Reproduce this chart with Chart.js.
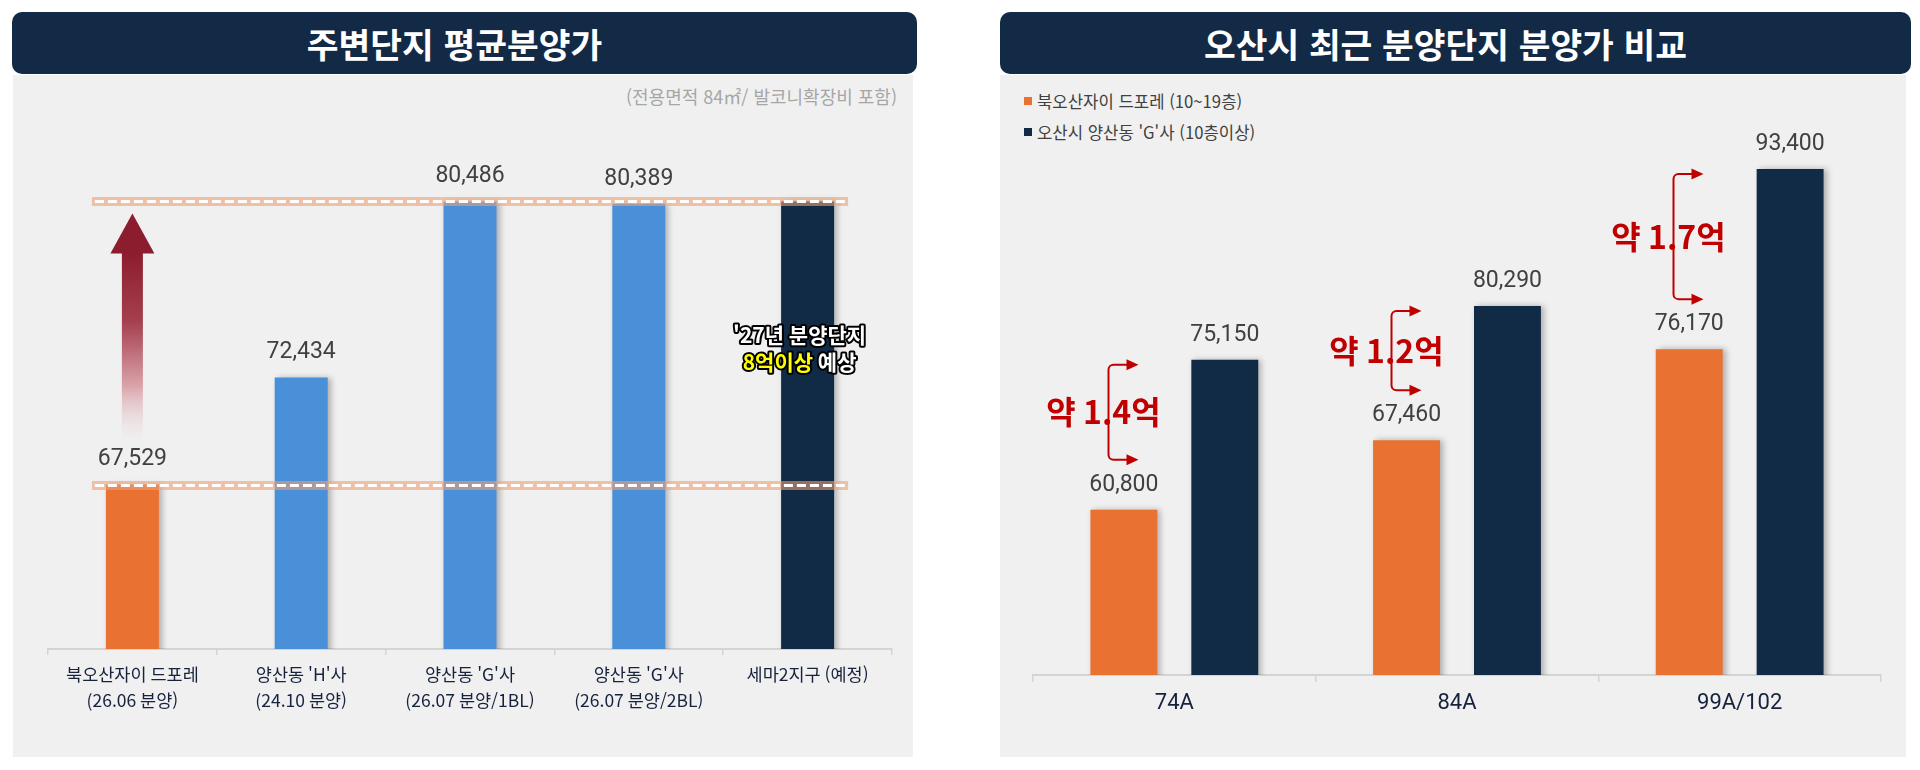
<!DOCTYPE html>
<html lang="ko">
<head>
<meta charset="utf-8">
<title>분양가 비교</title>
<script src="https://cdn.jsdelivr.net/npm/chart.js@4.4.1/dist/chart.umd.min.js"></script>
<style>
    body {
        margin: 0;
        width: 1920px;
        height: 770px;
        background: #ffffff;
        position: relative;
        overflow: hidden;
        font-family: "Noto Sans CJK KR", "Noto Sans", sans-serif;
    }
    .head {
        position: absolute;
        top: 12px;
        height: 62px;
        background: #132a46;
        border-radius: 10px;
        color: #ffffff;
        font-weight: bold;
        font-size: 34.5px;
        line-height: 62px;
        text-align: center;
        box-sizing: border-box;
        padding-right: 20px;
    }
    .body {
        position: absolute;
        top: 75px;
        height: 682px;
        background: #f0f0f0;
    }
    .wrap { position: absolute; top: 74px; height: 683px; }
    .note {
        position: absolute;
        top: 83px;
        right: 1023px;
        font-size: 18px;
        color: #a6a6a6;
        line-height: 26px;
    }
    #legend { position: absolute; left: 1024px; top: 85px; }
    #legend div {
        height: 31px;
        font-size: 16.7px;
        color: #404040;
        display: flex;
        align-items: center;
    }
    #legend span.box { width: 8px; height: 8px; margin-right: 5px; display: inline-block; }
</style>
</head>
<body>
<div class="head" style="left:12px;width:905px;">주변단지 평균분양가</div>
<div class="body" style="left:13px;width:900px;"></div>
<div class="note">(전용면적 84㎡/ 발코니확장비 포함)</div>
<div class="wrap" style="left:12px;width:902px;"><canvas id="leftChart" width="902" height="683"></canvas></div>

<div class="head" style="left:1000px;width:911px;">오산시 최근 분양단지 분양가 비교</div>
<div class="body" style="left:1000px;width:906px;"></div>
<div id="legend"></div>
<div class="wrap" style="left:1000px;width:906px;"><canvas id="rightChart" width="906" height="683"></canvas></div>

<script>
// 주변단지 평균분양가 (만원)
const nearbyNames = [
    ["북오산자이 드포레", "(26.06 분양)"],
    ["양산동 'H'사", "(24.10 분양)"],
    ["양산동 'G'사", "(26.07 분양/1BL)"],
    ["양산동 'G'사", "(26.07 분양/2BL)"],
    ["세마2지구 (예정)"]
];
const nearbyPrices = [67529, 72434, 80486, 80389, 80500];
const nearbyShown = [true, true, true, true, false];   // 세마2지구는 예상치라 숫자 없음

// 오산시 최근 분양단지 비교 (만원)
const unitTypes = ["74A", "84A", "99A/102"];
const seriesNames = ["북오산자이 드포레 (10~19층)", "오산시 양산동 'G'사 (10층이상)"];
const bukOsanPrices = [60800, 67460, 76170];
const yangsanGPrices = [75150, 80290, 93400];
const gapTexts = ["약 1.4억", "약 1.2억", "약 1.7억"];

const ORANGE = "#e97132";
const BLUE = "#4a90d9";
const NAVY = "#112a45";
const nearbyColors = [ORANGE, BLUE, BLUE, BLUE, NAVY];
const seriesColors = [ORANGE, NAVY];

const NUM_FONT = 'Roboto, "Noto Sans CJK KR", sans-serif';
const KR_FONT = '"Noto Sans CJK KR", sans-serif';

// 막대 오른쪽 그림자
const barShadow = {
    id: "barShadow",
    beforeDatasetsDraw(chart) {
        const c = chart.ctx;
        c.save();
        c.shadowColor = "rgba(0,0,0,0.28)";
        c.shadowBlur = 6;
        c.shadowOffsetX = 3;
        c.shadowOffsetY = 0;
    },
    afterDatasetsDraw(chart) {
        chart.ctx.restore();
    }
};

// 막대 위 숫자
const valueLabels = {
    id: "valueLabels",
    afterDatasetsDraw(chart) {
        const c = chart.ctx;
        c.save();
        c.font = "23px " + NUM_FONT;
        c.fillStyle = "#404040";
        c.textAlign = "center";
        c.textBaseline = "middle";
        chart.data.datasets.forEach((ds, di) => {
            chart.getDatasetMeta(di).data.forEach((bar, i) => {
                if (ds.shown && !ds.shown[i]) return;
                c.fillText(ds.data[i].toLocaleString("en-US"), bar.x, bar.y - 25);
            });
        });
        c.restore();
    }
};

// 점선 기준선, 상승 화살표, 세마2지구 설명
const nearbyGuides = {
    id: "nearbyGuides",
    afterDatasetsDraw(chart) {
        const c = chart.ctx;
        const y = chart.scales.y;
        const bars = chart.getDatasetMeta(0).data;
        const first = bars[0], last = bars[bars.length - 1];
        const x0 = first.x - first.width / 2 - 14;
        const x1 = last.x + last.width / 2 + 14;
        const topVal = Math.max(...nearbyPrices);

        [topVal, nearbyPrices[0]].forEach(v => {
            const py = Math.round(y.getPixelForValue(v)) + 0.5;
            c.save();
            c.strokeStyle = "rgba(236,160,116,0.6)";
            c.lineWidth = 9;
            c.beginPath(); c.moveTo(x0, py); c.lineTo(x1, py); c.stroke();
            c.strokeStyle = "#ffffff";
            c.lineWidth = 3;
            c.setLineDash([9, 4]);
            c.beginPath(); c.moveTo(x0 + 3, py); c.lineTo(x1 - 3, py); c.stroke();
            c.restore();
        });

        // 화살표
        const ax = first.x;
        const tip = y.getPixelForValue(topVal) + 12;
        const base = tip + 40;
        const bottom = first.y - 36;
        c.save();
        const grad = c.createLinearGradient(0, base, 0, bottom);
        grad.addColorStop(0, "#8c1d2e");
        grad.addColorStop(0.35, "#a5404f");
        grad.addColorStop(0.68, "#daa3aa");
        grad.addColorStop(1, "rgba(240,240,240,0)");
        c.fillStyle = grad;
        c.fillRect(ax - 10.5, base - 1, 21, bottom - base + 1);
        c.fillStyle = "#8c1d2e";
        c.beginPath();
        c.moveTo(ax, tip);
        c.lineTo(ax + 22, base);
        c.lineTo(ax - 22, base);
        c.closePath();
        c.fill();
        c.restore();

        // 세마2지구 설명
        const tx = last.x - 8;
        const ty = last.y + 134;
        c.save();
        c.font = "bold 21px " + KR_FONT;
        c.textBaseline = "middle";
        c.lineJoin = "round";
        c.lineWidth = 4;
        c.strokeStyle = "#000000";
        c.textAlign = "center";
        const line1 = "'27년 분양단지";
        c.strokeText(line1, tx, ty);
        c.fillStyle = "#ffffff";
        c.fillText(line1, tx, ty);
        const partA = "8억이상", partB = " 예상";
        const wA = c.measureText(partA).width, wB = c.measureText(partB).width;
        const sx = tx - (wA + wB) / 2;
        c.textAlign = "left";
        c.strokeText(partA, sx, ty + 27);
        c.strokeText(partB, sx + wA, ty + 27);
        c.fillStyle = "#ffff00";
        c.fillText(partA, sx, ty + 27);
        c.fillStyle = "#ffffff";
        c.fillText(partB, sx + wA, ty + 27);
        c.restore();
    }
};

// 가격차 괄호 화살표
const gapBrackets = {
    id: "gapBrackets",
    afterDatasetsDraw(chart) {
        const c = chart.ctx;
        const y = chart.scales.y;
        const lowBars = chart.getDatasetMeta(0).data;
        gapTexts.forEach((txt, i) => {
            const x = Math.round(lowBars[i].x - 16) + 0.5;
            const top = y.getPixelForValue(yangsanGPrices[i]) + 5;
            const bot = y.getPixelForValue(bukOsanPrices[i]) - 50;
            const r = 5;
            c.save();
            c.font = "bold 32px " + KR_FONT;
            c.fillStyle = "#c00000";
            c.textAlign = "center";
            c.textBaseline = "middle";
            c.fillText(txt, x - 5, (top + bot) / 2);

            c.strokeStyle = "#c00000";
            c.lineWidth = 2;
            c.beginPath();
            c.moveTo(x + 19, top);
            c.lineTo(x + r, top);
            c.arcTo(x, top, x, top + r, r);
            c.lineTo(x, bot - r);
            c.arcTo(x, bot, x + r, bot, r);
            c.lineTo(x + 19, bot);
            c.stroke();

            c.fillStyle = "#c00000";
            [top, bot].forEach(py => {
                c.beginPath();
                c.moveTo(x + 18, py - 5.5);
                c.lineTo(x + 30, py);
                c.lineTo(x + 18, py + 5.5);
                c.closePath();
                c.fill();
            });
            c.restore();
        });
    }
};

new Chart(document.getElementById("leftChart"), {
    type: "bar",
    data: {
        labels: nearbyNames,
        datasets: [{
            data: nearbyPrices,
            backgroundColor: nearbyColors,
            borderWidth: 0,
            categoryPercentage: 1,
            barPercentage: 0.314,
            shown: nearbyShown
        }]
    },
    options: {
        responsive: false,
        animation: false,
        layout: { padding: { left: 36, right: 22, top: 51, bottom: 0 } },
        plugins: { legend: { display: false }, tooltip: { enabled: false } },
        scales: {
            x: {
                grid: { drawOnChartArea: false, drawTicks: true, tickLength: 6, color: "#d4d4d4", lineWidth: 1.5 },
                border: { display: true, color: "#d4d4d4", width: 2 },
                ticks: { color: "#17223d", padding: 6, font: { family: KR_FONT, size: 17.5, lineHeight: 1.5 } },
                afterFit: s => { s.height = 108; }
            },
            y: { display: false, min: 60000, max: 84000 }
        }
    },
    plugins: [barShadow, valueLabels, nearbyGuides]
});

new Chart(document.getElementById("rightChart"), {
    type: "bar",
    data: {
        labels: unitTypes,
        datasets: [
            {
                label: seriesNames[0],
                data: bukOsanPrices,
                backgroundColor: seriesColors[0],
                borderWidth: 0,
                categoryPercentage: 0.714,
                barPercentage: 0.663
            },
            {
                label: seriesNames[1],
                data: yangsanGPrices,
                backgroundColor: seriesColors[1],
                borderWidth: 0,
                categoryPercentage: 0.714,
                barPercentage: 0.663
            }
        ]
    },
    options: {
        responsive: false,
        animation: false,
        layout: { padding: { left: 33, right: 25, top: 26, bottom: 0 } },
        plugins: { legend: { display: false }, tooltip: { enabled: false } },
        scales: {
            x: {
                grid: { drawOnChartArea: false, drawTicks: true, tickLength: 7, color: "#d4d4d4", lineWidth: 1.5 },
                border: { display: true, color: "#d4d4d4", width: 2 },
                ticks: { color: "#17223d", padding: 8, font: { family: NUM_FONT, size: 22, lineHeight: 1.2 } },
                afterFit: s => { s.height = 82; }
            },
            y: { display: false, min: 45000, max: 100000 }
        }
    },
    plugins: [barShadow, valueLabels, gapBrackets]
});

// 범례
const legend = document.getElementById("legend");
seriesNames.forEach((name, i) => {
    const row = document.createElement("div");
    row.innerHTML = `<span class="box" style="background:${seriesColors[i]}"></span>${name}`;
    legend.appendChild(row);
});
</script>
</body>
</html>
